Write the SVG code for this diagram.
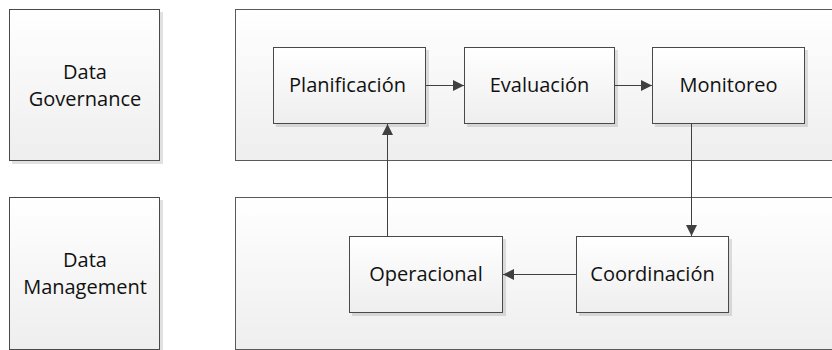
<svg xmlns="http://www.w3.org/2000/svg" width="832" height="350" viewBox="0 0 832 350">
<defs>
<linearGradient id="g" x1="0" y1="0" x2="0" y2="1">
<stop offset="0" stop-color="#ffffff"/>
<stop offset="1" stop-color="#eeeeee"/>
</linearGradient>
<marker id="ah" viewBox="0 0 10 10" refX="10" refY="5" markerWidth="11" markerHeight="11" markerUnits="userSpaceOnUse" orient="auto">
<path d="M0,0 L10,5 L0,10 z" fill="#404040"/>
</marker>
<filter id="sh" x="-10%" y="-10%" width="130%" height="130%">
<feOffset in="SourceAlpha" dx="3" dy="3" result="o"/>
<feComponentTransfer in="o" result="c"><feFuncA type="linear" slope="0.12"/></feComponentTransfer>
<feMerge><feMergeNode in="c"/><feMergeNode in="SourceGraphic"/></feMerge>
</filter>
</defs>
<style>
.box{fill:url(#g);stroke:#4a4a4a;stroke-width:1;filter:url(#sh)}
.lane{fill:url(#g);stroke:#5a5a5a;stroke-width:1}
.t{font-family:"Open Sans","Noto Sans","Liberation Sans",sans-serif;font-size:20px;fill:#111;text-anchor:middle}
.c{stroke:#404040;stroke-width:1;fill:none;marker-end:url(#ah)}
</style>
<g id="lane-governance"><rect class="lane" x="235.5" y="9.5" width="610" height="151"/></g>
<g id="lane-management"><rect class="lane" x="235.5" y="197.5" width="610" height="152"/></g>
<g id="data-governance"><rect class="box" x="9.5" y="9.5" width="150" height="151"/>
<text class="t" x="85" y="79">Data</text><text class="t" x="85" y="106">Governance</text></g>
<g id="data-management"><rect class="box" x="9.5" y="197.5" width="150" height="152"/>
<text class="t" x="85" y="267">Data</text><text class="t" x="85" y="294">Management</text></g>
<g id="planificacion"><rect class="box" x="273.5" y="47.5" width="152" height="76"/>
<text class="t" x="347.5" y="92">Planificación</text></g>
<g id="evaluacion"><rect class="box" x="464.5" y="47.5" width="150" height="76"/>
<text class="t" x="539.5" y="92">Evaluación</text></g>
<g id="monitoreo"><rect class="box" x="652.5" y="47.5" width="152" height="76"/>
<text class="t" x="728.5" y="92">Monitoreo</text></g>
<g id="operacional"><rect class="box" x="349.5" y="236.5" width="153" height="76"/>
<text class="t" x="426" y="281">Operacional</text></g>
<g id="coordinacion"><rect class="box" x="576.5" y="236.5" width="152" height="76"/>
<text class="t" x="652.5" y="281">Coordinación</text></g>
<g id="connectors">
<line class="c" x1="425.5" y1="85.5" x2="464" y2="85.5"/>
<line class="c" x1="614.5" y1="85.5" x2="652" y2="85.5"/>
<line class="c" x1="691.5" y1="123.5" x2="691.5" y2="236"/>
<line class="c" x1="576.5" y1="274.5" x2="503" y2="274.5"/>
<line class="c" x1="387.5" y1="236.5" x2="387.5" y2="124"/>
</g>
</svg>
